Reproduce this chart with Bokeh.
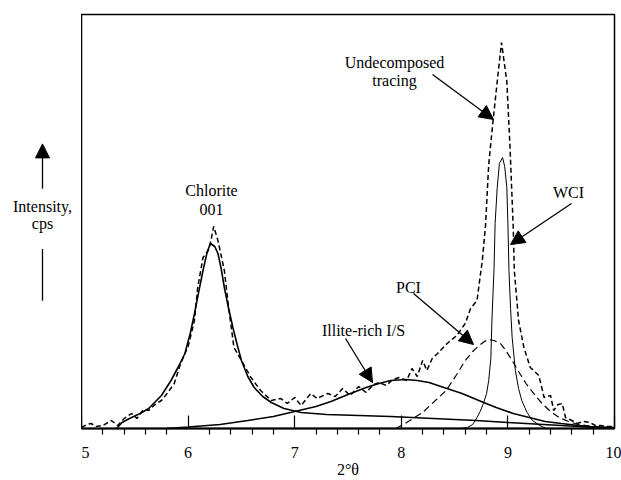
from bokeh.plotting import figure
from bokeh.layouts import row
from bokeh.models import Range1d, FixedTicker, Label, Arrow, NormalHead
from bokeh.embed import file_html
from bokeh.resources import INLINE

# ---- data (2-theta, intensity in arbitrary cps) ----
tracing_x = [5.00, 5.05, 5.09, 5.14, 5.20, 5.28, 5.34, 5.40, 5.47, 5.52, 5.58, 5.63, 5.69, 5.75,
             5.81, 5.87, 5.93, 6.00, 6.06, 6.09, 6.14, 6.19, 6.21, 6.24, 6.28, 6.34, 6.38, 6.43,
             6.50, 6.59, 6.68, 6.78, 6.87, 6.93, 7.00, 7.06, 7.15, 7.21, 7.31, 7.38, 7.45, 7.52,
             7.60, 7.67, 7.74, 7.79, 7.86, 7.92, 7.98, 8.05, 8.10, 8.15, 8.20, 8.24, 8.29, 8.34,
             8.43, 8.52, 8.60, 8.65, 8.71, 8.76, 8.79, 8.82, 8.86, 8.90, 8.94, 8.99, 9.02, 9.05,
             9.06, 9.10, 9.15, 9.21, 9.29, 9.34, 9.40, 9.43, 9.47, 9.51, 9.54, 9.60, 9.65, 9.71,
             9.77, 9.82, 9.87, 9.93, 10.00]
tracing_y = [1, 4, 5, 2, 3, 8, 3, 10, 15, 10, 19, 18, 24, 28,
             36, 45, 65, 82, 108, 141, 171, 178, 186, 202, 188, 158, 121, 81,
             68, 51, 38, 28, 30, 25, 31, 23, 35, 30, 35, 32, 40, 33,
             42, 36, 44, 46, 43, 49, 51, 48, 60, 52, 68, 58, 70, 75,
             85, 93, 105, 120, 128, 168, 203, 264, 307, 347, 386, 347, 281, 201,
             158, 108, 81, 61, 53, 31, 33, 18, 24, 25, 11, 8, 5, 7,
             6, 3, 3, 2, 2]

chlorite_x = [5.33, 5.38, 5.45, 5.55, 5.63, 5.75, 5.84, 5.92, 5.97, 6.02, 6.06, 6.10, 6.14, 6.18,
              6.21, 6.25, 6.28, 6.31, 6.34, 6.38, 6.42, 6.46, 6.50, 6.56, 6.62, 6.70, 6.78, 6.90,
              7.06, 7.30, 7.60, 7.90, 8.30, 8.70, 9.00, 9.50, 10.00]
chlorite_y = [0, 6, 10, 15, 20, 33, 48, 64, 75, 95, 115, 137, 158, 177,
              185, 182, 175, 160, 141, 120, 101, 84, 68, 52, 41, 32, 26, 20,
              16, 14, 13, 12, 10, 8, 6, 3, 0]

illite_x = [5.80, 6.00, 6.30, 6.56, 6.80, 7.00, 7.20, 7.34, 7.50, 7.67, 7.79, 7.90, 8.04, 8.15,
            8.26, 8.40, 8.57, 8.75, 8.89, 9.05, 9.20, 9.35, 9.50, 9.75, 10.00]
illite_y = [0, 1.5, 4, 8, 12, 17, 22, 27, 34, 41, 45, 48, 49, 48,
            46, 41, 35, 27, 21, 15, 11, 7, 5, 2, 1]

pci_x = [7.95, 8.05, 8.20, 8.30, 8.42, 8.52, 8.60, 8.67, 8.73, 8.78, 8.82, 8.87, 8.93, 8.98,
         9.04, 9.10, 9.17, 9.25, 9.32, 9.40, 9.48, 9.57, 9.66, 9.80, 10.00]
pci_y = [0, 6, 16, 26, 38, 54, 68, 77, 83, 87, 89, 88, 85, 78,
         68, 57, 45, 34, 25, 17, 11, 7, 4, 2, 0]

wci_x = [8.55, 8.62, 8.67, 8.71, 8.74, 8.77, 8.80, 8.82, 8.84, 8.85, 8.87, 8.88, 8.90, 8.92,
         8.95, 8.97, 8.99, 9.00, 9.01, 9.025, 9.04, 9.07, 9.10, 9.13, 9.18, 9.23, 9.30, 9.36]
wci_y = [0, 1, 4, 11, 17, 25, 35, 48, 70, 108, 160, 205, 241, 265,
         271, 262, 241, 205, 158, 120, 91, 58, 40, 28, 16, 8, 3, 0]

x_ticks = [5, 6, 7, 8, 9, 10]
x_minor = [5.2, 5.4, 5.6, 5.8, 6.2, 6.4, 6.6, 6.8, 7.2, 7.4, 7.6, 7.8,
           8.2, 8.4, 8.6, 8.8, 9.2, 9.4, 9.6, 9.8]

# ---- layout (page pixels) ----
W, H = 621, 480
FL, FR, FT, FB = 81, 614, 14, 428
def X(px):
    return 5 + (px - FL) * 5.0 / (FR - FL)
def Y(py):
    return FB - py

FONT = "Liberation Serif"
FS = "16px"

# left strip: y-axis caption with arrow
left = figure(width=FL, height=H, output_backend="svg", toolbar_location=None,
              x_range=Range1d(0, FL), y_range=Range1d(H, 0),
              x_axis_location=None, y_axis_location=None,
              min_border_left=0, min_border_right=0, min_border_top=0, min_border_bottom=0)
left.grid.visible = False
left.outline_line_color = None
for txt, yy in (("Intensity,", 223), ("cps", 242)):
    left.add_layout(Label(x=42, y=yy, text=txt, text_font=FONT, text_font_size=FS,
                          text_align="center", text_baseline="middle", text_color="black"))
left.add_layout(Arrow(x_start=42, y_start=202, x_end=42, y_end=150,
                      end=NormalHead(size=14, fill_color="black", line_color="black"),
                      line_color="black", line_width=1.3))
left.add_layout(Arrow(x_start=42, y_start=272, x_end=42, y_end=332, end=None,
                      line_color="black", line_width=1.3))

# main plot
p = figure(width=W - FL, height=H, output_backend="svg", toolbar_location=None,
           x_range=Range1d(5, 10), y_range=Range1d(0, FB - FT), y_axis_location=None,
           min_border_left=0, min_border_right=W - FR,
           min_border_top=FT, min_border_bottom=H - FB)
p.grid.visible = False
p.outline_line_color = "black"
p.outline_line_width = 1.5

ax = p.xaxis[0]
ax.ticker = FixedTicker(ticks=x_ticks, minor_ticks=x_minor)
ax.axis_line_width = 2
ax.axis_line_color = "black"
ax.major_tick_in = 13
ax.major_tick_out = 0
ax.major_tick_line_width = 1.2
ax.minor_tick_in = 0
ax.minor_tick_out = 6
ax.minor_tick_line_width = 1.2
ax.major_label_text_font = FONT
ax.major_label_text_font_size = FS
ax.major_label_text_color = "black"
ax.major_label_standoff = 12
ax.axis_label = "2\u00b0\u03b8"
ax.axis_label_text_font = FONT
ax.axis_label_text_font_size = FS
ax.axis_label_text_font_style = "normal"
ax.axis_label_text_color = "black"
ax.axis_label_standoff = 0

# ---- curves ----
p.line(tracing_x, tracing_y, line_color="black", line_width=1.5, line_dash="5 3")
p.line(chlorite_x, chlorite_y, line_color="black", line_width=1.6)
p.line(illite_x, illite_y, line_color="black", line_width=1.6)
p.line(pci_x, pci_y, line_color="black", line_width=1.2, line_dash="7 4")
p.line(wci_x, wci_y, line_color="black", line_width=1.0)

# ---- text ----
def lab(text, px, py):
    p.add_layout(Label(x=X(px), y=Y(py), text=text, text_font=FONT, text_font_size=FS,
                       text_align="center", text_baseline="middle", text_color="black"))

lab("Chlorite", 211, 190)
lab("001", 211, 209)
lab("Undecomposed", 394, 62)
lab("tracing", 394, 80)
lab("WCI", 568, 192)
lab("PCI", 408, 287)
lab("Illite-rich I/S", 363, 330)

def arr(x0, y0, x1, y1):
    p.add_layout(Arrow(x_start=X(x0), y_start=Y(y0), x_end=X(x1), y_end=Y(y1),
                       end=NormalHead(size=14, fill_color="black", line_color="black"),
                       line_color="black", line_width=1.3))

arr(432, 74, 493, 119)
arr(571, 203, 510, 244)
arr(413, 293, 473, 344)
arr(345, 338, 372, 382)

layout = row(left, p)
open("out.html", "w").write(file_html(layout, INLINE))
